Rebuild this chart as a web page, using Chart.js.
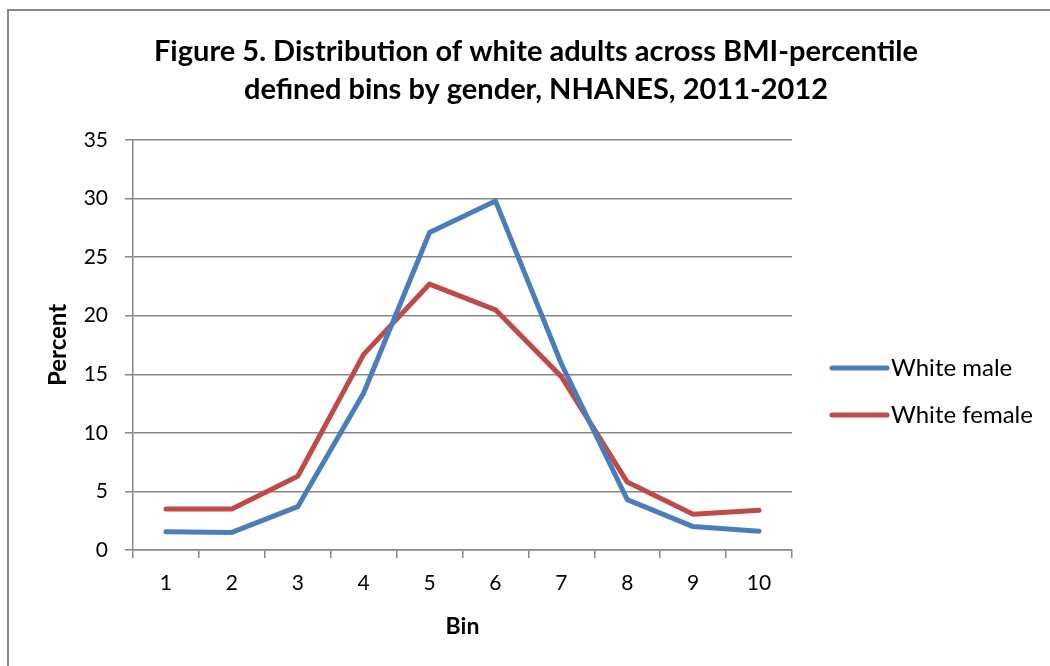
<!DOCTYPE html>
<html>
<head>
<meta charset="utf-8">
<script src="https://cdn.jsdelivr.net/npm/chart.js@4.4.1/dist/chart.umd.min.js"></script>
<style>
  html, body { margin: 0; padding: 0; background: #ffffff; }
  #wrap { width: 1050px; height: 666px; position: relative; }
</style>
</head>
<body>
<div id="wrap"><canvas id="chart" width="1050" height="666"></canvas></div>
<script>
// Percent of white adults in each BMI-percentile bin, NHANES 2011-2012
const bins = ['1', '2', '3', '4', '5', '6', '7', '8', '9', '10'];
const whiteMale = [1.55, 1.5, 3.7, 13.4, 27.1, 29.8, 15.9, 4.3, 2.0, 1.6];
const whiteFemale = [3.5, 3.5, 6.3, 16.7, 22.7, 20.5, 14.8, 5.8, 3.05, 3.4];
const titleLines = ['Figure 5. Distribution of white adults across BMI-percentile',
                    'defined bins by gender, NHANES, 2011-2012'];

const FONT = 'Lato, "Open Sans", sans-serif';
const AXIS_GREY = '#878787';

// outer frame of the figure
const framePlugin = {
  id: 'frame',
  afterDraw(chart) {
    const ctx = chart.ctx;
    ctx.save();
    ctx.strokeStyle = AXIS_GREY;
    ctx.lineWidth = 2;
    ctx.strokeRect(8, 10, 1100, 700);
    ctx.restore();
  }
};

// right-hand legend with line swatches
const sideLegend = {
  id: 'sideLegend',
  afterDraw(chart) {
    const ctx = chart.ctx;
    const area = chart.chartArea;
    const x0 = area.right + 40;
    const y0 = 368;
    const gap = 47;
    ctx.save();
    chart.data.datasets.forEach((ds, i) => {
      const y = y0 + i * gap;
      ctx.strokeStyle = ds.borderColor;
      ctx.lineWidth = 5;
      ctx.lineCap = 'round';
      ctx.beginPath();
      ctx.moveTo(x0, y);
      ctx.lineTo(x0 + 55, y);
      ctx.stroke();
      ctx.fillStyle = '#000000';
      ctx.font = '24px ' + FONT;
      ctx.textAlign = 'left';
      ctx.textBaseline = 'middle';
      ctx.fillText(ds.label, x0 + 59, y);
    });
    ctx.restore();
  }
};

new Chart(document.getElementById('chart'), {
  type: 'line',
  data: {
    labels: bins,
    datasets: [
      {
        label: 'White male',
        data: whiteMale,
        borderColor: '#4A7EBB',
        borderWidth: 5,
        borderCapStyle: 'round',
        borderJoinStyle: 'round',
        pointRadius: 0,
        tension: 0
      },
      {
        label: 'White female',
        data: whiteFemale,
        borderColor: '#BE4B48',
        borderWidth: 5,
        borderCapStyle: 'round',
        borderJoinStyle: 'round',
        pointRadius: 0,
        tension: 0
      }
    ]
  },
  options: {
    responsive: false,
    animation: false,
    layout: { padding: { left: 22, right: 0, top: 0, bottom: 0 } },
    plugins: {
      legend: { display: false },
      tooltip: { enabled: false },
      title: {
        display: true,
        text: titleLines,
        color: '#000000',
        font: { family: FONT, size: 29, weight: 'bold', lineHeight: 1.31 },
        padding: { top: 33, bottom: 31 }
      }
    },
    scales: {
      x: {
        offset: true,
        afterFit(scale) { scale.height = 116; },
        grid: {
          offset: true,
          drawOnChartArea: false,
          drawTicks: true,
          tickLength: 8,
          color: AXIS_GREY,
          lineWidth: 1.5
        },
        border: { color: AXIS_GREY, width: 1.5 },
        ticks: {
          color: '#000000',
          font: { family: FONT, size: 21 },
          padding: 13,
          maxRotation: 0,
          autoSkip: false
        },
        title: {
          display: true,
          text: 'Bin',
          color: '#000000',
          font: { family: FONT, size: 23, weight: 'bold' },
          padding: { top: 0, bottom: 26 }
        }
      },
      y: {
        min: 0,
        max: 35,
        afterFit(scale) { scale.width = 111; },
        grid: {
          color: AXIS_GREY,
          lineWidth: 1.5,
          drawTicks: true,
          tickLength: 8
        },
        border: { color: AXIS_GREY, width: 1.5 },
        ticks: {
          stepSize: 5,
          color: '#000000',
          font: { family: FONT, size: 21 },
          padding: 17
        },
        title: {
          display: true,
          text: 'Percent',
          color: '#000000',
          font: { family: FONT, size: 24, weight: 'bold' },
          padding: { top: 22, bottom: 0 }
        }
      },
      // empty right-hand axis that reserves room for the legend
      legendSpace: {
        type: 'linear',
        position: 'right',
        display: true,
        afterFit(scale) { scale.width = 258; },
        grid: { display: false, drawOnChartArea: false },
        border: { display: false },
        ticks: { display: false }
      }
    }
  },
  plugins: [framePlugin, sideLegend]
});
</script>
</body>
</html>
